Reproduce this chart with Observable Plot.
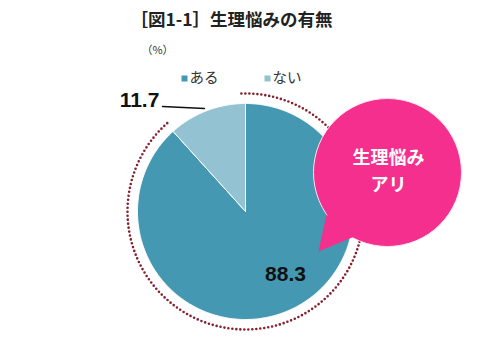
<!DOCTYPE html>
<html><head><meta charset="utf-8">
<script src="https://cdn.jsdelivr.net/npm/d3@7"></script>
<script src="https://cdn.jsdelivr.net/npm/@observablehq/plot@0.6"></script>
<style>body{margin:0;background:#fff}#chart svg{display:block}</style>
</head><body><div id="chart"></div>
<script>
const categories = ["ある", "ない"];
const values = [88.3, 11.7];
const title = "［図1-1］生理悩みの有無";
const unitLabel = "（%）";
const calloutLines = ["生理悩み", "アリ"];
const palette = ["#4498b2", "#93c3d3"];

// geometry (pixel space)
const cx = 245, cy = 211, R = 108, RD = 118;
const deg = Math.PI / 180;
const pie = d3.pie().sort(null)(values);
const wedgePts = [];
pie.forEach((p, i) => {
  const cat = categories[i];
  wedgePts.push({cat, x: cx, y: cy});
  const n = Math.max(2, Math.ceil((p.endAngle - p.startAngle) / 0.01));
  for (let k = 0; k <= n; k++) {
    const a = p.startAngle + (p.endAngle - p.startAngle) * k / n;
    wedgePts.push({cat, x: cx + R * Math.sin(a), y: cy - R * Math.cos(a)});
  }
  wedgePts.push({cat, x: cx, y: cy});
});
const dotArc = d3.range(-2, 320, 0.5).map(a => ({x: cx + RD * Math.sin(a * deg), y: cy - RD * Math.cos(a * deg)}));
const tail = [{x: 326, y: 214}, {x: 318, y: 251}, {x: 354, y: 236}];
const legend = categories.map((c, i) => ({cat: c, x: [184, 267][i], y: 78}));
const labelPos = [{x: 285, y: 274}, {x: 139, y: 100}];
const valueLabels = values.map((v, i) => ({text: v.toFixed(1), ...labelPos[i]}));

const chart = Plot.plot({
  width: 500, height: 357, margin: 0,
  x: {domain: [0, 500], range: [0, 500], axis: null},
  y: {domain: [0, 357], range: [0, 357], axis: null},
  color: {domain: categories, range: palette},
  style: {background: "#fff", overflow: "visible"},
  marks: [
    Plot.line(dotArc, {x: "x", y: "y", stroke: "#86202e", strokeWidth: 2.6, strokeDasharray: "0,4", strokeLinecap: "round"}),
    Plot.line(wedgePts, {x: "x", y: "y", z: "cat", fill: "cat", stroke: "#fff", strokeWidth: 1, curve: "linear"}),
    Plot.dot([0], {x: 387, y: 172, r: 74, fill: "#f52f8d", stroke: "#fde3ef", strokeWidth: 1}),
    Plot.line(tail, {x: "x", y: "y", fill: "#f52f8d", stroke: null}),
    Plot.text(calloutLines, {x: 388, y: (d, i) => [158, 185][i], text: d => d, fill: "#fff", fontSize: 18, fontWeight: "bold", fontFamily: "Noto Sans CJK JP"}),
    Plot.text(valueLabels, {x: "x", y: "y", text: "text", fontSize: 21, fontWeight: "bold", fill: "#111", fontFamily: "Liberation Sans, Arial, sans-serif"}),
    Plot.line([{x: 162, y: 106}, {x: 204, y: 108}], {x: "x", y: "y", stroke: "#111", strokeWidth: 1.3}),
    Plot.dot(legend, {x: "x", y: "y", fill: "cat", symbol: "square", r: 3.4}),
    Plot.text(legend, {x: d => d.x + 5, y: "y", text: "cat", textAnchor: "start", fontSize: 14.5, fill: "#333", fontFamily: "Noto Sans CJK JP"}),
    Plot.text([unitLabel], {x: 157, y: 50, text: d => d, fontSize: 11, fill: "#333", fontFamily: "Noto Sans CJK JP"}),
    Plot.text([title], {x: 231, y: 20, text: d => d, fontSize: 17.5, fontWeight: "bold", fill: "#222", fontFamily: "Noto Sans CJK JP"})
  ]
});
document.getElementById("chart").append(chart);
</script></body></html>
